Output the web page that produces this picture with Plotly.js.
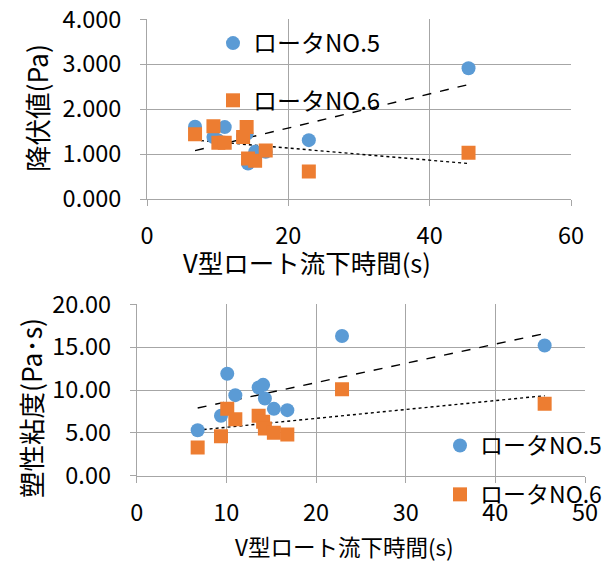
<!DOCTYPE html>
<html>
<head>
<meta charset="utf-8">
<script src="https://cdn.plot.ly/plotly-3.0.1.min.js"></script>
<style>html,body{margin:0;padding:0;background:#fff}#chart{width:603px;height:562px}</style>
</head>
<body>
<div id="chart"></div>
<script>
// V型ロート流下時間 (s) – shared by both charts
const flowTime = [6.8, 9.4, 10.1, 11.0, 13.6, 14.1, 14.3, 15.3, 16.8, 22.9, 45.5];
// 降伏値 (Pa)
const yieldNo5 = [1.61, 1.38, 1.30, 1.60, 1.40, 1.45, 0.79, 1.05, 1.05, 1.31, 2.91];
const yieldNo6 = [1.44, 1.62, 1.25, 1.25, 1.38, 1.60, 0.90, 0.85, 1.08, 0.61, 1.03];
// 塑性粘度 (Pa･s)
const viscNo5 = [5.3, 7.0, 11.9, 9.4, 10.3, 10.6, 9.0, 7.8, 7.65, 16.3, 15.2];
const viscNo6 = [3.3, 4.6, 7.8, 6.6, 7.0, 6.3, 5.5, 5.0, 4.8, 10.1, 8.4];

const seriesNames = ['ロータNO.5', 'ロータNO.6'];
const yTitleTop = '降伏値(Pa)';
const yTitleBottom = '塑性粘度(Pa･s)';
const xTitle = 'V型ロート流下時間(s)';

const BLUE = '#5B9BD5', ORANGE = '#ED7D31', GRID = '#A6A6A6';
const FONT = '"Noto Sans CJK JP", "Noto Sans", sans-serif';

function trend(xs, ys) {
  const n = xs.length;
  const mx = xs.reduce((a, b) => a + b, 0) / n;
  const my = ys.reduce((a, b) => a + b, 0) / n;
  let sxy = 0, sxx = 0;
  for (let i = 0; i < n; i++) { sxy += (xs[i] - mx) * (ys[i] - my); sxx += (xs[i] - mx) ** 2; }
  const b = sxy / sxx, a = my - b * mx;
  const x0 = Math.min(...xs), x1 = Math.max(...xs);
  return { x: [x0, x1], y: [a + b * x0, a + b * x1] };
}

function pts(xs, ys, i, xa, ya, leg) {
  return {
    x: xs, y: ys, xaxis: xa, yaxis: ya, type: 'scatter', mode: 'markers',
    name: seriesNames[i], legend: leg, legendgroup: leg + i,
    marker: { color: i === 0 ? BLUE : ORANGE, symbol: i === 0 ? 'circle' : 'square', size: 14,
              line: { width: 0 } },
    hoverinfo: 'x+y'
  };
}
function tl(xs, ys, dash, xa, ya) {
  const t = trend(xs, ys);
  return { x: t.x, y: t.y, xaxis: xa, yaxis: ya, type: 'scatter', mode: 'lines',
           line: { color: '#000', width: 1.4, dash: dash }, showlegend: false, hoverinfo: 'skip' };
}

const data = [
  tl(flowTime, yieldNo5, 'dash', 'x', 'y'),
  tl(flowTime, yieldNo6, 'dot', 'x', 'y'),
  pts(flowTime, yieldNo5, 0, 'x', 'y', 'legend'),
  pts(flowTime, yieldNo6, 1, 'x', 'y', 'legend'),
  tl(flowTime, viscNo5, 'dash', 'x2', 'y2'),
  tl(flowTime, viscNo6, 'dot', 'x2', 'y2'),
  pts(flowTime, viscNo5, 0, 'x2', 'y2', 'legend2'),
  pts(flowTime, viscNo6, 1, 'x2', 'y2', 'legend2')
];

const W = 603, H = 562;
const axBase = {
  showgrid: true, gridcolor: GRID, gridwidth: 1,
  showline: true, linecolor: GRID, linewidth: 1,
  zeroline: false, ticks: 'outside', ticklen: 6, tickcolor: GRID,
  tickfont: { family: FONT, size: 23.5, color: '#000' }, automargin: false, fixedrange: true
};

const layout = {
  width: W, height: H, margin: { l: 0, r: 0, t: 0, b: 0, autoexpand: false },
  paper_bgcolor: '#fff', plot_bgcolor: '#fff',
  font: { family: FONT, color: '#000' },
  xaxis: Object.assign({}, axBase, { domain: [147 / W, 571 / W], range: [0, 60], dtick: 20, anchor: 'y', ticklabelstandoff: 10 }),
  yaxis: Object.assign({}, axBase, { domain: [1 - 199 / H, 1 - 19.3 / H], range: [0, 4], dtick: 1, tickformat: '.3f', anchor: 'x', ticklabelstandoff: 14 }),
  xaxis2: Object.assign({}, axBase, { domain: [136.7 / W, 585 / W], range: [0, 50], dtick: 10, anchor: 'y2', ticklabelstandoff: 10 }),
  yaxis2: Object.assign({}, axBase, { domain: [1 - 475.7 / H, 1 - 304.3 / H], range: [0, 20], dtick: 5, tickformat: '.2f', anchor: 'x2', ticklabelstandoff: 14 }),
  legend: { x: (233 - 20) / W, y: 1 - 21 / H, xanchor: 'left', yanchor: 'top', bgcolor: 'rgba(0,0,0,0)',
            traceorder: 'grouped', tracegroupgap: 23, font: { family: FONT, size: 24, color: '#000' } },
  legend2: { x: (460 - 20) / W, y: 1 - 424 / H, xanchor: 'left', yanchor: 'top', bgcolor: 'rgba(0,0,0,0)',
             traceorder: 'grouped', tracegroupgap: 16, font: { family: FONT, size: 23, color: '#000' } },
  showlegend: true,
  annotations: [
    { text: yTitleTop, xref: 'paper', yref: 'paper', x: 36 / W, y: 1 - 108 / H, textangle: -90,
      showarrow: false, font: { family: FONT, size: 26.5 }, xanchor: 'center', yanchor: 'middle' },
    { text: xTitle, xref: 'paper', yref: 'paper', x: 307 / W, y: 1 - 261 / H,
      showarrow: false, font: { family: FONT, size: 25.5 }, xanchor: 'center', yanchor: 'middle' },
    { text: yTitleBottom, xref: 'paper', yref: 'paper', x: 30 / W, y: 1 - 408 / H, textangle: -90,
      showarrow: false, font: { family: FONT, size: 26.5 }, xanchor: 'center', yanchor: 'middle' },
    { text: xTitle, xref: 'paper', yref: 'paper', x: 344 / W, y: 1 - 546 / H,
      showarrow: false, font: { family: FONT, size: 22.5 }, xanchor: 'center', yanchor: 'middle' }
  ]
};

Plotly.newPlot('chart', data, layout, { displayModeBar: false, staticPlot: true });
</script>
</body>
</html>
